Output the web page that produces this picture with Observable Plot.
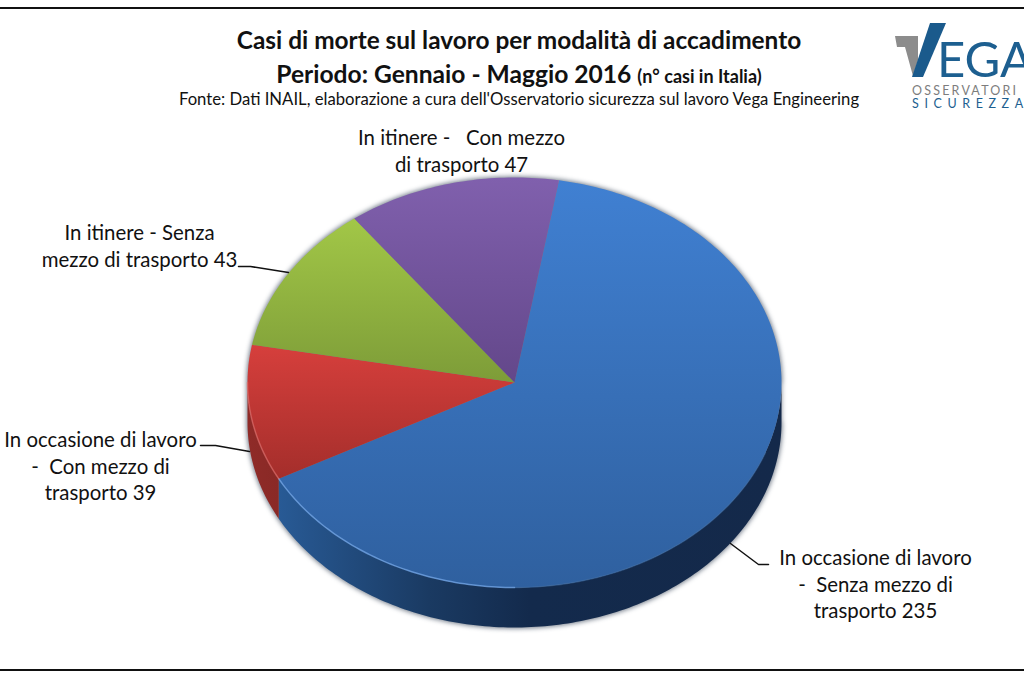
<!DOCTYPE html>
<html lang="it">
<head>
<meta charset="utf-8">
<script src="https://cdn.jsdelivr.net/npm/d3@7"></script>
<script src="https://cdn.jsdelivr.net/npm/@observablehq/plot@0.6"></script>
<style>
  html, body { margin: 0; padding: 0; background: #fff; overflow: hidden; }
  body { width: 1024px; height: 680px; position: relative; font-family: Lato, "Open Sans", sans-serif; color: #111; }
  #header { position: relative; height: 110px; width: 1024px; overflow: hidden; }
  #topline { position: absolute; left: 0; top: 7px; width: 1024px; height: 2px; background: #111; }
  #bottomline { position: absolute; left: 0; top: 669px; width: 1024px; height: 2px; background: #111; }
  .t { position: absolute; left: 0; width: 1038px; text-align: center; white-space: nowrap; }
  #t1 { top: 25px; font-size: 24.4px; font-weight: 700; }
  #t2 { top: 59px; font-size: 24.6px; font-weight: 700; }
  #t2 small { font-size: 18px; }
  #t3 { top: 89px; font-size: 16.7px; }
  #logo { position: absolute; left: 0; top: 0; }
  #chart { position: absolute; left: 0; top: 110px; }
</style>
</head>
<body>
<div id="header">
  <div id="topline"></div>
  <div class="t" id="t1">Casi di morte sul lavoro per modalità di accadimento</div>
  <div class="t" id="t2">Periodo: Gennaio - Maggio 2016 <small>(n° casi in Italia)</small></div>
  <div class="t" id="t3">Fonte: Dati INAIL, elaborazione a cura dell'Osservatorio sicurezza sul lavoro Vega Engineering</div>
  <svg id="logo" width="1024" height="110" viewBox="0 0 1024 110">
    <polygon points="895,36 918,36 918,60 913,76 905,47 897,47" fill="#8c8c8c"></polygon>
    <polygon points="930,23 946,23 923,77 912,77" fill="#1a5a8c"></polygon>
    <text x="937" y="77" font-family="Lato, sans-serif" font-size="49" fill="#1d5f90">EGA</text>
    <text x="912" y="94.5" font-family="Lato, sans-serif" font-size="12.5" letter-spacing="2.2" fill="#7d7d7d">OSSERVATORI</text>
    <text x="912" y="107.5" font-family="Lato, sans-serif" font-size="12.5" letter-spacing="5.6" fill="#1d5f90">SICUREZZA</text>
  </svg>
</div>
<div id="bottomline"></div>
<div id="chart"></div>
<script>
// Values, in drawing order (clockwise from the start angle)
const categories = [
  "In occasione di lavoro\n-\u00a0\u00a0Senza mezzo di\ntrasporto",
  "In occasione di lavoro\n-\u00a0\u00a0Con mezzo di\ntrasporto",
  "In itinere - Senza\nmezzo di trasporto",
  "In itinere -\u00a0\u00a0\u00a0Con mezzo\ndi trasporto"
];
const values = [235, 39, 43, 47];

// Styles and layout, kept apart from the values
const topColors = [["#4080d2", "#2f609f"], ["#d63f3c", "#a42e2b"], ["#a2c747", "#7d9c38"], ["#8060ad", "#63478a"]];
const blueSideStops = [[0, "#285a95"], [0.3, "#1a3a62"], [0.5, "#132a4c"], [1, "#14294a"]];
const redSideStops = [[0, "#8f2b28"], [1, "#8a2926"]];
const startDeg = 9.6;
const W = 1024, H = 570, OFFSET = 110;
const cx = 514, cy = 382 - OFFSET, rx = 267, ry = 205, depthPx = 40;
const depth = depthPx / ry;

const px = v => (v - cx) / rx;              // page pixel to pie unit
const py = v => (cy + OFFSET - v) / ry;

const labelPos = [[875, 557], [100, 439], [139, 232], [461, 137]];
const leaders = [
  [[730, 543], [758, 564], [768, 564]],
  [[200, 445], [215, 445], [249, 451]],
  [[238, 266], [250, 266], [288, 272]],
  []
];

const rad = d => d * Math.PI / 180;
const arcPts = (a0, a1, dz = 0) => {
  const n = Math.max(2, Math.ceil(Math.abs(a1 - a0)));
  return d3.range(n + 1).map(i => {
    const a = rad(a0 + (a1 - a0) * i / n);
    return {x: Math.sin(a), y: Math.cos(a) - dz};
  });
};

const pie = d3.pie().sort(null).startAngle(rad(startDeg)).endAngle(rad(startDeg + 360))(values);
const slices = pie.map((s, i) => ({
  i,
  a0: s.startAngle * 180 / Math.PI,
  a1: s.endAngle * 180 / Math.PI
}));

const stops = list => list.map(([o, c]) => `<stop offset="${o}" stop-color="${c}"/>`).join("");
const defsMark = () => {
  const g = d3.create("svg:g");
  g.append("defs").html(
    topColors.map((c, i) => `<linearGradient id="top${i}" x1="0" y1="0" x2="0" y2="1">${stops([[0, c[0]], [1, c[1]]])}</linearGradient>`).join("") +
    `<linearGradient id="side0" x1="0" y1="0" x2="1" y2="0">${stops(blueSideStops)}</linearGradient>` +
    `<linearGradient id="side1" x1="0" y1="0" x2="1" y2="0">${stops(redSideStops)}</linearGradient>`
  );
  return g.node();
};

// Silhouette for the soft shadow around the pie
const silhouette = [...arcPts(90, 270, depth), ...arcPts(270, 450, 0)];

// Side wall: only the front part of the ellipse (90° to 270°) is visible
const sides = slices.map(s => {
  const a0 = Math.max(s.a0, 90), a1 = Math.min(s.a1, 270);
  if (a1 <= a0) return null;
  return {i: s.i, pts: [...arcPts(a0, a1, 0), ...arcPts(a1, a0, depth)]};
}).filter(Boolean);

const tops = slices.map(s => ({
  i: s.i,
  pts: [{x: 0, y: 0}, ...arcPts(s.a0, s.a1, 0)]
}));

const labels = categories.map((c, i) => ({
  text: `${c} ${values[i]}`,
  x: px(labelPos[i][0]),
  y: py(labelPos[i][1])
}));

const rim = (a0, a1, color, opacity) =>
  Plot.line(arcPts(a0, a1, 0), {x: "x", y: "y", stroke: color, strokeWidth: 1.5, strokeOpacity: opacity, imageFilter: "blur(0.6px)"});

const plot = Plot.plot({
  width: W,
  height: H,
  margin: 0,
  x: {domain: [-1, 1], range: [cx - rx, cx + rx], axis: null},
  y: {domain: [-1, 1], range: [cy + ry, cy - ry], axis: null},
  marks: [
    defsMark,
    Plot.line(silhouette, {x: "x", y: "y", fill: "#1a2a40", stroke: "#1a2a40", strokeWidth: 1.5, fillOpacity: 0.6, strokeOpacity: 0.6, imageFilter: "blur(2.5px)"}),
    ...sides.map(s => Plot.line(s.pts, {x: "x", y: "y", fill: `url(#side${s.i})`, stroke: "none"})),
    ...tops.map(s => Plot.line(s.pts, {x: "x", y: "y", fill: `url(#top${s.i})`, stroke: "none"})),
    // soft light rim along the front of the top face, strongest at the left
    rim(110, 180, "#3d6ea8", 0.5),
    rim(180, slices[0].a1, "#6fa3e4", 0.8),
    rim(slices[1].a0, 270, "#dd6a66", 0.7),
    ...leaders.filter(l => l.length).map(l => Plot.line(l.map(([a, b]) => ({x: px(a), y: py(b)})), {x: "x", y: "y", stroke: "#111", strokeWidth: 1.5})),
    Plot.text(labels, {x: "x", y: "y", text: "text", textAnchor: "middle", lineAnchor: "top", lineHeight: 1.32, fontSize: 20.4, fontFamily: "Lato, sans-serif", fill: "#111", dy: -12})
  ]
});
document.getElementById("chart").appendChild(plot);
</script>
</body>
</html>
